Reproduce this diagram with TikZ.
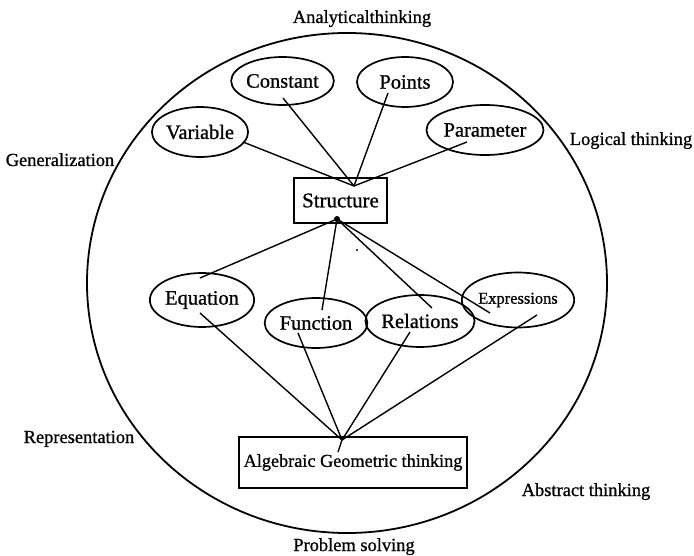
\documentclass[tikz,border=0pt]{standalone}
\usepackage{fontspec}
\setmainfont{Liberation Serif}[FakeBold=0.9]
\newfontfamily\dkfont{Liberation Serif}[FakeBold=0.9]
\usetikzlibrary{shapes.geometric}
\begin{document}
\begin{tikzpicture}[x=1bp,y=-1bp,
  oval/.style={draw, ellipse, line width=1.7bp, inner sep=0pt, font=\dkfont\fontsize{20.5}{22}\selectfont},
  box/.style={draw, rectangle, line width=1.5bp, inner sep=0pt},
  lbl/.style={font=\dkfont\fontsize{18.5}{20}\selectfont, inner sep=0pt, anchor=base},
  conn/.style={line width=1.4bp}]
\useasboundingbox (0,0) rectangle (694,556);
% outer ellipse
\draw[line width=1.8bp] (347,283) ellipse [x radius=260bp, y radius=250bp];
% outer labels
\node[lbl] (la) at (362,23) {Analyticalthinking};
\node[lbl] (ll) at (631,145) {Logical thinking};
\node[lbl] (lg) at (60,166) {Generalization};
\node[lbl] (lr) at (79,443) {Representation};
\node[lbl] (lab) at (586,496) {Abstract thinking};
\node[lbl] (lp) at (354,551) {Problem solving};
% top ovals
\node[oval, minimum width=96bp, minimum height=50bp] (var) at (200,132) {Variable};
\node[oval, minimum width=99bp, minimum height=48bp] (con) at (282.5,81) {Constant};
\node[oval, minimum width=96bp, minimum height=50bp] (pts) at (405,82) {Points};
\node[oval, minimum width=96bp, minimum height=50bp] (par) at (485,130) {Parameter};
% structure
\node[box, minimum width=93bp, minimum height=45bp, font=\dkfont\fontsize{21}{23}\selectfont] (str) at (340.5,200.5) {Structure};
% bottom ovals
\node[oval, minimum width=90bp, minimum height=54bp] (equ) at (202,300) {Equation};
\node[oval, minimum width=87bp, minimum height=50bp] (fun) at (316,323) {Function};
\node[oval, minimum width=95bp, minimum height=52bp] (rel) at (420,321) {Relations};
\node[oval, minimum width=91bp, minimum height=55bp, font=\dkfont\fontsize{16.5}{18}\selectfont] (exp) at (518,300) {Expressions};
% algebraic box
\node[box, minimum width=228bp, minimum height=51bp, font=\dkfont\fontsize{18.3}{20}\selectfont] (alg) at (353,462.5) {Algebraic Geometric thinking};
% convergence points
\coordinate (stop) at (354,186);
\coordinate (sbot) at (337,219);
\coordinate (atop) at (342,440);
\coordinate (atick) at (338,452);
% top connectors
\draw[conn] ([shift={(43,10)}]var.center) -- (stop);
\draw[conn] ([shift={(0.5,17)}]con.center) -- (stop);
\draw[conn] ([shift={(-17,11)}]pts.center) -- (stop);
\draw[conn] ([shift={(-18,12)}]par.center) -- (stop);
% structure to bottom ovals
\draw[conn] (sbot) -- ([shift={(-2,-22)}]equ.center);
\draw[conn] (sbot) -- ([shift={(6,-13)}]fun.center);
\draw[conn] (sbot) -- ([shift={(12,-13)}]rel.center);
\draw[conn] (sbot) -- ([shift={(-28,13)}]exp.center);
\fill (sbot) circle [radius=3bp];
% bottom ovals to algebraic box
\draw[conn] ([shift={(-2,13)}]equ.center) -- (atop);
\draw[conn] ([shift={(-18,10)}]fun.center) -- (atop);
\draw[conn] ([shift={(-10,11)}]rel.center) -- (atop);
\draw[conn] ([shift={(19,15)}]exp.center) -- (atop);
\draw[conn] (atop) -- (atick);
% stray dot
\fill (357,250) circle [radius=1.2bp];
\end{tikzpicture}
\end{document}
